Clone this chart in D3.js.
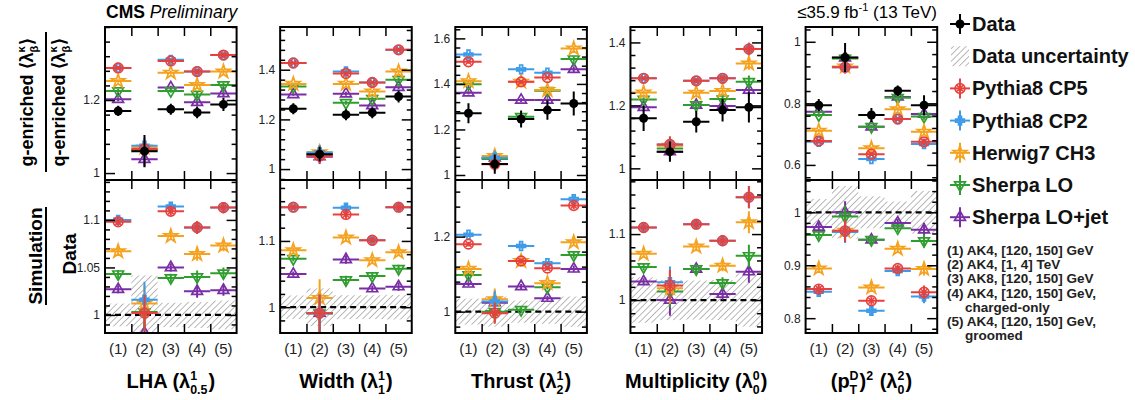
<!DOCTYPE html>
<html>
<head>
<meta charset="utf-8">
<script src="https://cdn.jsdelivr.net/npm/d3@7"></script>
<style>
body { margin: 0; background: #fff; }
text { font-family: "Liberation Sans", Arial, Helvetica, sans-serif; white-space: pre; }
</style>
</head>
<body>
<div id="chart"></div>
<script>
var bins = ["(1)", "(2)", "(3)", "(4)", "(5)"];

// rows: LHA, Width, Thrust, Multiplicity, (pTD)^2
var dataMean = [
	[1.170, 1.060, 1.175, 1.166, 1.188],
	[1.243, 1.060, 1.219, 1.227, 1.292],
	[1.271, 1.048, 1.246, 1.285, 1.314],
	[1.159, 1.053, 1.148, 1.185, 1.194],
	[0.794, 0.949, 0.762, 0.841, 0.794]
];
var dataErr = [
	[0.014, 0.044, 0.015, 0.016, 0.018],
	[0.022, 0.030, 0.022, 0.022, 0.024],
	[0.044, 0.042, 0.037, 0.042, 0.053],
	[0.040, 0.032, 0.034, 0.036, 0.048],
	[0.020, 0.047, 0.023, 0.017, 0.032]
];

var cp5Mean = [
	[1.288, 1.066, 1.307, 1.278, 1.323],
	[1.427, 1.053, 1.385, 1.349, 1.480],
	[1.497, 1.047, 1.409, 1.428, 1.686],
	[1.286, 1.076, 1.278, 1.286, 1.379],
	[0.678, 0.917, 0.635, 0.749, 0.675]
];
var cp2Mean = [
	[1.288, 1.075, 1.310, 1.278, 1.323],
	[1.427, 1.067, 1.393, 1.349, 1.480],
	[1.529, 1.076, 1.464, 1.449, 1.708],
	[1.286, 1.076, 1.278, 1.286, 1.379],
	[0.675, 0.917, 0.619, 0.749, 0.668]
];
var herwigMean = [
	[1.252, 1.070, 1.275, 1.241, 1.278],
	[1.343, 1.068, 1.343, 1.312, 1.393],
	[1.412, 1.083, 1.410, 1.373, 1.556],
	[1.241, 1.072, 1.240, 1.246, 1.333],
	[0.711, 0.920, 0.654, 0.781, 0.708]
];
var sherpaMean = [
	[1.225, 1.063, 1.225, 1.215, 1.241],
	[1.332, 1.060, 1.267, 1.283, 1.360],
	[1.399, 1.070, 1.256, 1.370, 1.509],
	[1.219, 1.063, 1.201, 1.220, 1.275],
	[0.762, 0.946, 0.724, 0.818, 0.757]
];
var sherpaJetMean = [
	[1.202, 1.038, 1.234, 1.194, 1.218],
	[1.300, 1.050, 1.303, 1.256, 1.329],
	[1.361, 1.075, 1.329, 1.329, 1.464],
	[1.194, 1.053, 1.201, 1.198, 1.249],
	[0.773, 0.948, 0.724, 0.821, 0.765]
];

var cp5Ratio = [
	[1.098, 1.002, 1.109, 1.092, 1.113],
	[1.151, 0.991, 1.140, 1.101, 1.151],
	[1.180, 0.996, 1.135, 1.116, 1.283],
	[1.110, 1.022, 1.115, 1.090, 1.156],
	[0.855, 0.965, 0.833, 0.894, 0.849]
];
var cp2Ratio = [
	[1.100, 1.016, 1.114, 1.092, 1.113],
	[1.151, 0.991, 1.150, 1.101, 1.151],
	[1.205, 1.027, 1.175, 1.129, 1.300],
	[1.110, 1.027, 1.115, 1.090, 1.156],
	[0.850, 0.963, 0.814, 0.889, 0.841]
];
var herwigRatio = [
	[1.067, 1.012, 1.083, 1.064, 1.073],
	[1.086, 1.014, 1.105, 1.071, 1.083],
	[1.114, 1.033, 1.135, 1.076, 1.185],
	[1.070, 1.018, 1.081, 1.052, 1.118],
	[0.894, 0.965, 0.858, 0.931, 0.893]
];
var sherpaRatio = [
	[1.043, 1.003, 1.039, 1.040, 1.044],
	[1.073, 0.991, 1.041, 1.047, 1.058],
	[1.098, 1.000, 1.005, 1.065, 1.151],
	[1.050, 1.013, 1.047, 1.026, 1.067],
	[0.957, 0.992, 0.948, 0.970, 0.946]
];
var sherpaJetRatio = [
	[1.027, 0.981, 1.050, 1.025, 1.026],
	[1.050, 0.991, 1.072, 1.028, 1.031],
	[1.074, 1.024, 1.067, 1.036, 1.114],
	[1.028, 1.000, 1.047, 1.009, 1.043],
	[0.972, 1.000, 0.948, 0.980, 0.967]
];

// simulation stat. uncertainty (absolute, top panel)
var simErr = [
	[0.005, 0.020, 0.005, 0.008, 0.007],
	[0.005, 0.030, 0.008, 0.006, 0.008],
	[0.008, 0.030, 0.008, 0.008, 0.012],
	[0.006, 0.025, 0.008, 0.010, 0.020],
	[0.006, 0.020, 0.006, 0.006, 0.010]
];

var topDomains = [[0.981, 1.40], [0.956, 1.572], [0.978, 1.65], [0.963, 1.449], [0.551, 1.048]];
var ratioDomains = [[0.981, 1.142], [0.961, 1.192], [0.943, 1.351], [0.95, 1.182], [0.772, 1.061]];
var topTicks = [[1, 1.2], [1, 1.2, 1.4], [1, 1.2, 1.4, 1.6], [1, 1.2, 1.4], [0.6, 0.8, 1]];
var ratioTicks = [[1, 1.05, 1.1], [1, 1.1], [1, 1.2], [1, 1.1], [0.8, 0.9, 1]];
var topMinorStep = [0.04, 0.04, 0.04, 0.04, 0.04];
var ratioMinorStep = [0.01, 0.02, 0.04, 0.02, 0.02];

var panelTitles = [
	["LHA (λ", {sup: "1", sub: "0.5"}, ")"],
	["Width (λ", {sup: "1", sub: "1"}, ")"],
	["Thrust (λ", {sup: "1", sub: "2"}, ")"],
	["Multiplicity (λ", {sup: "0", sub: "0"}, ")"],
	["(p", {sup: "D", sub: "T"}, ")", {sup: "2"}, "\u00a0(λ", {sup: "2", sub: "0"}, ")"]
];

var legendNames = ["Data", "Data uncertainty", "Pythia8 CP5", "Pythia8 CP2", "Herwig7 CH3", "Sherpa LO", "Sherpa LO+jet"];
var notes = [
	["(1) AK4, [120, 150] GeV", 0],
	["(2) AK4, [1, 4] TeV", 0],
	["(3) AK8, [120, 150] GeV", 0],
	["(4) AK4, [120, 150] GeV,", 0],
	["charged-only", 1],
	["(5) AK4, [120, 150] GeV,", 0],
	["groomed", 1]
];

var series = [
	{name: "Sherpa LO+jet", mean: sherpaJetMean, ratio: sherpaJetRatio, color: "#7a2ea6", marker: "triUp"},
	{name: "Sherpa LO", mean: sherpaMean, ratio: sherpaRatio, color: "#2f9e2f", marker: "triDown"},
	{name: "Herwig7 CH3", mean: herwigMean, ratio: herwigRatio, color: "#f5a21f", marker: "star"},
	{name: "Pythia8 CP2", mean: cp2Mean, ratio: cp2Ratio, color: "#3d9be9", marker: "cross"},
	{name: "Pythia8 CP5", mean: cp5Mean, ratio: cp5Ratio, color: "#e8403c", marker: "circleX"}
];

var frameTop = 27, frameMid = 180, frameBottom = 333;
var firstLeft = 105, panelStep = 175.15, panelWidth = 131.6;

var svg = d3.select("#chart").append("svg")
	.attr("width", 1135)
	.attr("height", 400);

var defs = svg.append("defs");
var hatch = defs.append("pattern")
	.attr("id", "hatch")
	.attr("patternUnits", "userSpaceOnUse")
	.attr("width", 4.5)
	.attr("height", 4.5)
	.attr("patternTransform", "rotate(45)");
hatch.append("line")
	.attr("x1", 0).attr("y1", 0).attr("x2", 0).attr("y2", 4.5)
	.attr("stroke", "#9a9a9a")
	.attr("stroke-width", 1.4);

function drawMarker(g, type, cx, cy, color) {
	if (type === "data") {
		g.append("circle").attr("cx", cx).attr("cy", cy).attr("r", 4.5).attr("fill", "black");
	} else if (type === "circleX") {
		g.append("circle").attr("cx", cx).attr("cy", cy).attr("r", 4.8)
			.attr("fill", "none").attr("stroke", color).attr("stroke-width", 1.7);
		g.append("path")
			.attr("d", "M" + (cx - 3) + "," + (cy - 3) + "L" + (cx + 3) + "," + (cy + 3) +
				"M" + (cx - 3) + "," + (cy + 3) + "L" + (cx + 3) + "," + (cy - 3))
			.attr("stroke", color).attr("stroke-width", 1.5);
	} else {
		var sym, rot = 0, size = 50;
		if (type === "cross") { sym = d3.symbolCross; size = 42; }
		if (type === "star") { sym = d3.symbolStar; size = 55; }
		if (type === "triUp") { sym = d3.symbolTriangle; size = 50; }
		if (type === "triDown") { sym = d3.symbolTriangle; size = 50; rot = 180; }
		g.append("path")
			.attr("d", d3.symbol(sym, size)())
			.attr("transform", "translate(" + cx + "," + cy + ") rotate(" + rot + ")")
			.attr("fill", "none")
			.attr("stroke", color)
			.attr("stroke-width", 1.7);
	}
}

function drawPoint(g, x1, x2, yc, yLo, yHi, color, marker) {
	g.append("line").attr("x1", x1).attr("x2", x2).attr("y1", yc).attr("y2", yc)
		.attr("stroke", color).attr("stroke-width", 2);
	g.append("line").attr("x1", (x1 + x2) / 2).attr("x2", (x1 + x2) / 2).attr("y1", yLo).attr("y2", yHi)
		.attr("stroke", color).attr("stroke-width", 2);
	drawMarker(g, marker, (x1 + x2) / 2, yc, color);
}

// text made of plain pieces and stacked super/subscripts
function richText(g, x, y, pieces, size, anchor, weight) {
	var t = g.append("g");
	var pos = 0;
	pieces.forEach(function(p) {
		if (typeof p === "string") {
			var el = t.append("text").attr("x", pos).attr("y", 0)
				.attr("font-size", size).attr("font-weight", weight).text(p);
			pos += el.node().getComputedTextLength();
		} else {
			var wMax = 0;
			if (p.sup) {
				var s = t.append("text").attr("x", pos).attr("y", -size * 0.42)
					.attr("font-size", size * 0.62).attr("font-weight", weight).text(p.sup);
				wMax = Math.max(wMax, s.node().getComputedTextLength());
			}
			if (p.sub) {
				var b = t.append("text").attr("x", pos).attr("y", size * 0.3)
					.attr("font-size", size * 0.62).attr("font-weight", weight).text(p.sub);
				wMax = Math.max(wMax, b.node().getComputedTextLength());
			}
			pos += wMax + 1;
		}
	});
	var shift = anchor === "middle" ? -pos / 2 : 0;
	t.attr("transform", "translate(" + (x + shift) + "," + y + ")");
	return t;
}

function minorTicks(domain, step, major) {
	var out = [];
	for (var k = Math.ceil(domain[0] / step - 1e-6); k * step <= domain[1] + 1e-9; k++) {
		var v = +(k * step).toFixed(4);
		if (major.indexOf(v) < 0) out.push(v);
	}
	return out;
}

function styleAxis(sel) {
	sel.select(".domain").remove();
	sel.selectAll("line").attr("stroke", "black").attr("stroke-width", 1.5);
	sel.selectAll("text").attr("font-size", 12).attr("font-family", "Liberation Sans, Arial, sans-serif").attr("fill", "#222");
}

function drawYAxes(g, y, x0, major, step) {
	var minor = minorTicks(y.domain(), step, major);
	g.append("g").attr("transform", "translate(" + x0 + ",0)")
		.call(d3.axisLeft(y).tickValues(major).tickSize(-10).tickPadding(5).tickFormat(d3.format("~g")))
		.call(styleAxis);
	g.append("g").attr("transform", "translate(" + x0 + ",0)")
		.call(d3.axisLeft(y).tickValues(minor).tickSize(-5).tickFormat(""))
		.call(styleAxis);
	g.append("g").attr("transform", "translate(" + (x0 + panelWidth) + ",0)")
		.call(d3.axisRight(y).tickValues(major).tickSize(-10).tickFormat(""))
		.call(styleAxis);
	g.append("g").attr("transform", "translate(" + (x0 + panelWidth) + ",0)")
		.call(d3.axisRight(y).tickValues(minor).tickSize(-5).tickFormat(""))
		.call(styleAxis);
}

function drawPanel(i) {
	var x0 = firstLeft + i * panelStep;
	var x = d3.scaleBand().domain(bins).range([x0, x0 + panelWidth]);
	var bw = x.bandwidth();
	var yTop = d3.scaleLinear().domain(topDomains[i]).range([frameMid, frameTop]);
	var yBot = d3.scaleLinear().domain(ratioDomains[i]).range([frameBottom, frameMid]);
	var g = svg.append("g");

	defs.append("clipPath").attr("id", "clipTop" + i).append("rect")
		.attr("x", x0).attr("y", frameTop).attr("width", panelWidth).attr("height", frameMid - frameTop);
	defs.append("clipPath").attr("id", "clipBot" + i).append("rect")
		.attr("x", x0).attr("y", frameMid).attr("width", panelWidth).attr("height", frameBottom - frameMid);

	var top = g.append("g").attr("clip-path", "url(#clipTop" + i + ")");
	var bot = g.append("g").attr("clip-path", "url(#clipBot" + i + ")");

	// data uncertainty band
	bins.forEach(function(b, j) {
		var rel = dataErr[i][j] / dataMean[i][j];
		bot.append("rect")
			.attr("x", x(b)).attr("width", bw)
			.attr("y", yBot(1 + rel)).attr("height", yBot(1 - rel) - yBot(1 + rel))
			.attr("fill", "url(#hatch)");
	});
	bot.append("line")
		.attr("x1", x0).attr("x2", x0 + panelWidth)
		.attr("y1", yBot(1)).attr("y2", yBot(1))
		.attr("stroke", "black").attr("stroke-width", 2.2).attr("stroke-dasharray", "6,4");

	series.forEach(function(s) {
		bins.forEach(function(b, j) {
			var m = s.mean[i][j], e = simErr[i][j];
			drawPoint(top, x(b), x(b) + bw, yTop(m), yTop(m - e), yTop(m + e), s.color, s.marker);
			var r = s.ratio[i][j], re = e / dataMean[i][j];
			drawPoint(bot, x(b), x(b) + bw, yBot(r), yBot(r - re), yBot(r + re), s.color, s.marker);
		});
	});
	bins.forEach(function(b, j) {
		var m = dataMean[i][j], e = dataErr[i][j];
		drawPoint(top, x(b), x(b) + bw, yTop(m), yTop(m - e), yTop(m + e), "black", "data");
	});

	// frame
	g.append("rect").attr("x", x0).attr("y", frameTop)
		.attr("width", panelWidth).attr("height", frameBottom - frameTop)
		.attr("fill", "none").attr("stroke", "black").attr("stroke-width", 2);
	g.append("line").attr("x1", x0).attr("x2", x0 + panelWidth)
		.attr("y1", frameMid).attr("y2", frameMid)
		.attr("stroke", "black").attr("stroke-width", 2);

	drawYAxes(g, yTop, x0, topTicks[i], topMinorStep[i]);
	drawYAxes(g, yBot, x0, ratioTicks[i], ratioMinorStep[i]);

	// bin boundary ticks
	var edges = d3.scaleLinear().domain([0, bins.length]).range([x0, x0 + panelWidth]);
	var inner = [1, 2, 3, 4];
	g.append("g").attr("transform", "translate(0," + frameTop + ")")
		.call(d3.axisTop(edges).tickValues(inner).tickSize(-9).tickFormat("")).call(styleAxis);
	g.append("g").attr("transform", "translate(0," + frameMid + ")")
		.call(d3.axisTop(edges).tickValues(inner).tickSize(-9).tickFormat("")).call(styleAxis);
	g.append("g").attr("transform", "translate(0," + frameMid + ")")
		.call(d3.axisBottom(edges).tickValues(inner).tickSize(-9).tickFormat("")).call(styleAxis);
	g.append("g").attr("transform", "translate(0," + frameBottom + ")")
		.call(d3.axisBottom(edges).tickValues(inner).tickSize(-9).tickFormat("")).call(styleAxis);

	bins.forEach(function(b) {
		g.append("text").attr("x", x(b) + bw / 2).attr("y", 354)
			.attr("text-anchor", "middle").attr("font-size", 15).attr("fill", "#222").text(b);
	});

	richText(g, x0 + panelWidth / 2, 388, panelTitles[i], 20, "middle", "bold");
}

for (var i = 0; i < 5; i++) {
	drawPanel(i);
}

// header texts
var cms = svg.append("text").attr("x", 106).attr("y", 18).attr("font-size", 17.5);
cms.append("tspan").attr("font-weight", "bold").text("CMS");
cms.append("tspan").attr("font-style", "italic").text(" Preliminary");

var lumi = svg.append("text").attr("x", 937).attr("y", 18).attr("font-size", 17).attr("text-anchor", "end");
lumi.append("tspan").text("≤35.9 fb");
lumi.append("tspan").attr("font-size", 11).attr("dy", -7).text("-1");
lumi.append("tspan").attr("dy", 7).text(" (13 TeV)");

// y axis titles
var yl1 = svg.append("g").attr("transform", "translate(33,102) rotate(-90)");
richText(yl1, 0, 0, ["g-enriched\u00a0", "⟨λ", {sup: "κ", sub: "β"}, "⟩"], 18, "middle", "bold");
var yl2 = svg.append("g").attr("transform", "translate(65,102) rotate(-90)");
richText(yl2, 0, 0, ["q-enriched\u00a0", "⟨λ", {sup: "κ", sub: "β"}, "⟩"], 18, "middle", "bold");
svg.append("line").attr("x1", 46).attr("x2", 46).attr("y1", 32).attr("y2", 172)
	.attr("stroke", "black").attr("stroke-width", 2);

svg.append("text").attr("transform", "translate(42,256) rotate(-90)")
	.attr("text-anchor", "middle").attr("font-size", 19).attr("font-weight", "bold").text("Simulation");
svg.append("line").attr("x1", 46).attr("x2", 46).attr("y1", 207).attr("y2", 305)
	.attr("stroke", "black").attr("stroke-width", 2);
svg.append("text").attr("transform", "translate(76,254) rotate(-90)")
	.attr("text-anchor", "middle").attr("font-size", 19).attr("font-weight", "bold").text("Data");

// legend
var legend = svg.append("g");
legendNames.forEach(function(name, k) {
	var cy = 24 + k * 32.2, cx = 960;
	if (name === "Data uncertainty") {
		legend.append("rect").attr("x", cx - 9).attr("y", cy - 10).attr("width", 18).attr("height", 20)
			.attr("fill", "url(#hatch)");
	} else if (name === "Data") {
		drawPoint(legend, cx - 10, cx + 10, cy, cy - 10, cy + 10, "black", "data");
	} else {
		var s = series.filter(function(d) { return d.name === name; })[0];
		drawPoint(legend, cx - 10, cx + 10, cy, cy - 10, cy + 10, s.color, s.marker);
	}
	legend.append("text").attr("x", 972).attr("y", cy + 7)
		.attr("font-size", 20).attr("font-weight", "bold").attr("fill", "#111").text(name);
});

notes.forEach(function(n, k) {
	svg.append("text").attr("x", n[1] ? 965 : 947).attr("y", 255 + k * 14.2)
		.attr("font-size", 13.5).attr("font-weight", "bold").attr("fill", "#222").text(n[0]);
});
</script>
</body>
</html>
